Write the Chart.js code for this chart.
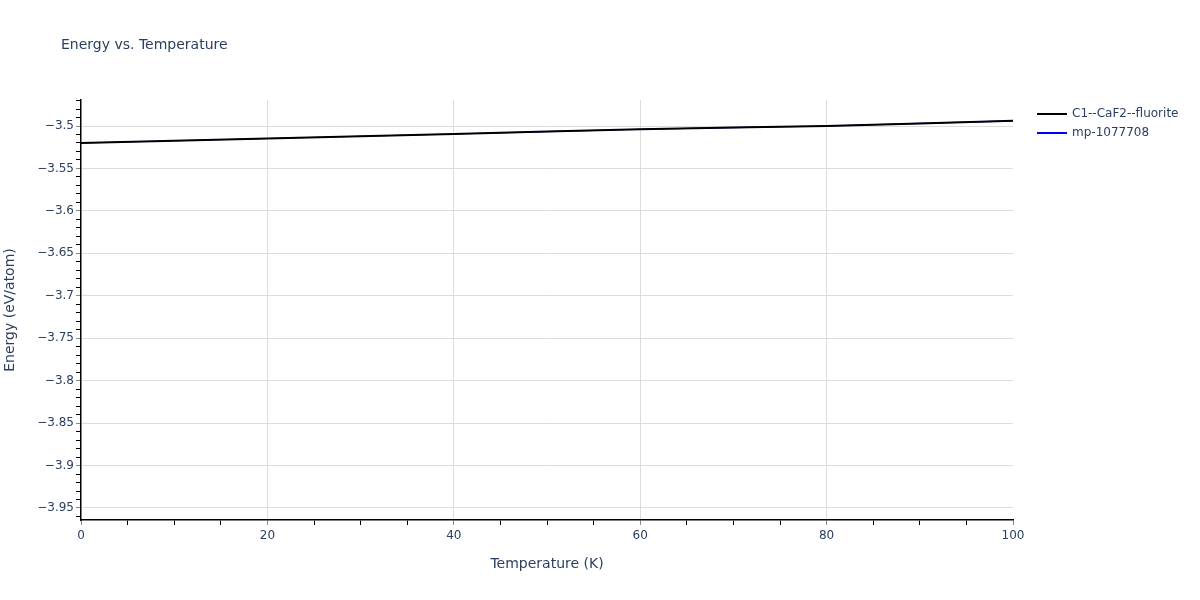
<!DOCTYPE html>
<html>
<head>
<meta charset="utf-8">
<title>Energy vs. Temperature</title>
<script src="https://cdn.jsdelivr.net/npm/chart.js@4"></script>
<style>
  html, body { margin: 0; padding: 0; background: #fff; }
  #chart { display: block; }
</style>
</head>
<body>
<canvas id="chart" width="1200" height="600"></canvas>
<script>
// data
const temperatures = [0, 10, 20, 30, 40, 50, 60, 70, 80, 90, 100];
const fluoriteEnergy = [-3.5200, -3.5174, -3.5147, -3.5121, -3.5094, -3.5066, -3.5038, -3.5018, -3.5000, -3.4970, -3.4939];
const mpEnergy = [-3.5200, -3.5174, -3.5147, -3.5121, -3.5094, -3.5066, -3.5038, -3.5018, -3.5000, -3.4970, -3.4939];
const seriesNames = ['C1--CaF2--fluorite', 'mp-1077708'];
const seriesColors = ['#000000', '#0000ff'];

const xMajorTicks = [0, 20, 40, 60, 80, 100];
const yMajorTicks = [-3.5, -3.55, -3.6, -3.65, -3.7, -3.75, -3.8, -3.85, -3.9, -3.95];

const textColor = '#2a3f5f';
const fontFamily = '"DejaVu Sans", verdana, arial, sans-serif';

// minor ticks every 5 K and every 0.01 eV
const xAllTicks = [];
for (let i = 0; i <= 20; i++) xAllTicks.push(i * 5);
const yAllTicks = [];
for (let i = -396; i <= -347; i++) yAllTicks.push(i / 100);

const isMajor = (list, v) => list.some(m => Math.abs(m - v) < 1e-6);
const fmt = v => String(+v.toFixed(2)).replace('-', '\u2212');

// title + legend drawn at plotly-like positions
const annotations = {
    id: 'annotations',
    afterDraw(chart) {
        const c = chart.ctx;
        c.save();
        c.fillStyle = textColor;
        c.textBaseline = 'middle';
        c.font = '14px ' + fontFamily;
        c.fillText('Energy vs. Temperature', 61, 45);

        c.font = '12px ' + fontFamily;
        seriesNames.forEach((name, i) => {
            const y = 114 + i * 19;
            c.strokeStyle = seriesColors[i];
            c.lineWidth = 2;
            c.beginPath();
            c.moveTo(1037, y);
            c.lineTo(1067, y);
            c.stroke();
            c.fillText(name, 1072, y);
        });
        c.restore();
    }
};

new Chart(document.getElementById('chart'), {
    type: 'line',
    data: {
        datasets: [
            {
                label: seriesNames[0],
                data: temperatures.map((t, i) => ({ x: t, y: fluoriteEnergy[i] })),
                borderColor: seriesColors[0],
                borderWidth: 2,
                pointRadius: 0,
                tension: 0
            },
            {
                label: seriesNames[1],
                data: temperatures.map((t, i) => ({ x: t, y: mpEnergy[i] })),
                borderColor: seriesColors[1],
                borderWidth: 1.2,
                pointRadius: 0,
                tension: 0
            }
        ]
    },
    options: {
        responsive: false,
        animation: false,
        devicePixelRatio: 1,
        layout: { padding: { top: 100, right: 187, left: 0, bottom: 0 } },
        plugins: {
            legend: { display: false },
            title: { display: false },
            tooltip: { enabled: false }
        },
        scales: {
            x: {
                type: 'linear',
                min: 0,
                max: 100,
                afterFit: s => { s.height = 80; },
                afterBuildTicks: s => { s.ticks = xAllTicks.map(v => ({ value: v })); },
                border: { color: '#000', width: 1.5 },
                grid: {
                    color: ctx => (isMajor(xMajorTicks, ctx.tick.value) && ctx.tick.value > 0 && ctx.tick.value < 100) ? '#dcdcdc' : 'rgba(0,0,0,0)',
                    tickColor: ctx => isMajor(xMajorTicks, ctx.tick.value) ? '#888' : '#000',
                    tickLength: 5
                },
                ticks: {
                    autoSkip: false,
                    maxRotation: 0,
                    padding: 4,
                    color: textColor,
                    font: { family: fontFamily, size: 12 },
                    callback: v => isMajor(xMajorTicks, v) ? String(v) : ''
                },
                title: {
                    display: true,
                    text: 'Temperature (K)',
                    color: textColor,
                    font: { family: fontFamily, size: 14 },
                    padding: { top: 0, bottom: 27.6 }
                }
            },
            y: {
                type: 'linear',
                min: -3.96414,
                max: -3.46937,
                afterFit: s => { s.width = 81; },
                afterBuildTicks: s => { s.ticks = yAllTicks.map(v => ({ value: v })); },
                border: { color: '#000', width: 1.5 },
                grid: {
                    color: ctx => isMajor(yMajorTicks, ctx.tick.value) ? '#dcdcdc' : 'rgba(0,0,0,0)',
                    tickColor: ctx => isMajor(yMajorTicks, ctx.tick.value) ? '#888' : '#000',
                    tickLength: 5
                },
                ticks: {
                    autoSkip: false,
                    padding: 2,
                    color: textColor,
                    font: { family: fontFamily, size: 12 },
                    callback: v => isMajor(yMajorTicks, v) ? fmt(v) : ''
                },
                title: {
                    display: true,
                    text: 'Energy (eV/atom)',
                    color: textColor,
                    font: { family: fontFamily, size: 14 },
                    padding: { top: 1.6, bottom: 0 }
                }
            }
        }
    },
    plugins: [annotations]
});
</script>
</body>
</html>
